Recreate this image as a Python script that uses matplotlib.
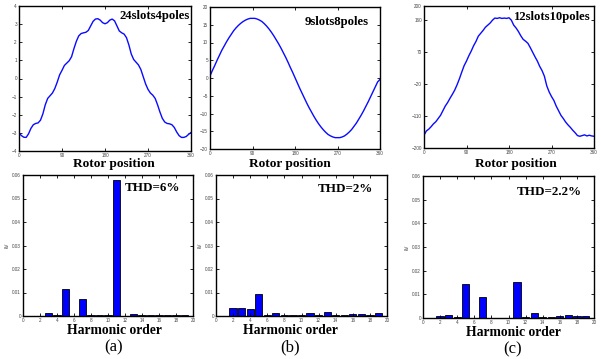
import matplotlib
matplotlib.use("Agg")
import matplotlib.pyplot as plt

# ---------------- data ----------------
angles = list(range(0, 361, 5))

emf_24s4p = [-3.00, -3.15, -3.24, -3.25, -3.05, -2.75, -2.55, -2.48, -2.45, -2.30,
             -1.95, -1.45, -1.10, -0.95, -0.80, -0.55, -0.20, 0.20, 0.45, 0.72,
             0.85, 0.98, 1.20, 1.65, 2.05, 2.35, 2.48, 2.52, 2.55, 2.65,
             2.90, 3.15, 3.28, 3.30, 3.22, 3.08, 3.02, 3.08, 3.22, 3.28,
             3.18, 2.90, 2.62, 2.52, 2.45, 2.25, 1.85, 1.35, 1.05, 0.90,
             0.75, 0.50, 0.10, -0.30, -0.60, -0.80, -0.92, -1.10, -1.45, -1.85,
             -2.20, -2.40, -2.48, -2.50, -2.55, -2.70, -2.95, -3.15, -3.25, -3.25,
             -3.20, -3.08, -2.98]

emf_9s8p = [0.6, 2.1, 3.5, 5.0, 6.4, 7.8, 9.0, 10.2, 11.3, 12.3,
            13.3, 14.1, 14.8, 15.4, 15.9, 16.3, 16.6, 16.8, 16.8, 16.8,
            16.6, 16.3, 15.9, 15.3, 14.6, 13.8, 12.9, 11.9, 10.8, 9.7,
            8.5, 7.2, 5.9, 4.5, 3.0, 1.6, 0.1, -1.4, -2.9, -4.3,
            -5.7, -7.1, -8.4, -9.6, -10.8, -11.9, -12.9, -13.8, -14.6, -15.3,
            -15.9, -16.3, -16.6, -16.8, -16.8, -16.8, -16.6, -16.3, -15.8, -15.2,
            -14.5, -13.6, -12.7, -11.6, -10.5, -9.3, -8.0, -6.7, -5.3, -3.9,
            -2.5, -1.1, -0.4]

emf_12s10p = [-164, -152, -147, -140, -132, -126, -117, -108, -95, -82,
              -72, -60, -49, -37, -22, -5, 14, 32, 45, 60,
              73, 88, 100, 115, 123, 131, 140, 146, 152, 160,
              166, 165, 167, 165, 166, 165, 167, 160, 146, 138,
              128, 116, 106, 101, 95, 83, 70, 57, 45, 30,
              18, 2, -25, -42, -55, -66, -82, -95, -108, -117,
              -127, -135, -142, -150, -157, -165, -167, -165, -163, -166,
              -164, -166, -167]

harmonics = list(range(2, 21))
thd_a = [0.0002, 0.0011, 0.0003, 0.0115, 0.0002, 0.0073, 0.0003, 0.0003, 0.0003,
         0.0579, 0.0002, 0.0008, 0.0003, 0.0003, 0.0003, 0.0003, 0.0003, 0.0003, 0.0002]
thd_b = [0.0035, 0.0035, 0.0028, 0.0092, 0.0003, 0.0014, 0.0003, 0.0005, 0.0005,
         0.0011, 0.0003, 0.0017, 0.0006, 0.0005, 0.0008, 0.0008, 0.0003, 0.0011, 0.0001]
thd_c = [0.0008, 0.0014, 0.0005, 0.0143, 0.0002, 0.0088, 0.0002, 0.0002, 0.0002,
         0.0153, 0.0005, 0.0021, 0.0005, 0.0003, 0.0007, 0.0014, 0.0007, 0.0009, 0.0001]

titles = ["24slots4poles", "9slots8poles", "12slots10poles"]
thd_labels = ["THD=6%", "THD=2%", "THD=2.2%"]
panel_labels = ["(a)", "(b)", "(c)"]
x_ticks_top = [0, 90, 180, 270, 360]
y_ticks_top = [[-4, -3, -2, -1, 0, 1, 2, 3, 4],
               [-20, -15, -10, -5, 0, 5, 10, 15, 20],
               [-200, -110, -20, 70, 160, 200]]
x_ticks_bot = list(range(0, 21, 2))
y_ticks_bot = [0, 0.01, 0.02, 0.03, 0.04, 0.05, 0.06]
y_tick_labels_bot = ["0", "0.01", "0.02", "0.03", "0.04", "0.05", "0.06"]

# ---------------- figure ----------------
W, H = 601, 359
fig = plt.figure(figsize=(W / 100, H / 100), dpi=100)

def px_axes(x0, y0, x1, y1):
    return fig.add_axes([x0 / W, 1 - y1 / H, (x1 - x0) / W, (y1 - y0) / H])

serif = "Liberation Serif"

top_boxes = [(19, 6, 191, 151), (210, 7, 380, 149), (424, 6, 594, 148)]
bot_boxes = [(23, 175, 193, 316), (216, 175, 387, 316), (423, 176, 594, 318)]
curves = [emf_24s4p, emf_9s8p, emf_12s10p]
ylims = [(-4, 4), (-20, 20), (-200, 200)]
bars = [thd_a, thd_b, thd_c]
title_pos = [(0.995, 0.93), (0.935, 0.895), (0.98, 0.92)]
thd_pos = [(0.925, 0.905), (0.918, 0.90), (0.93, 0.885)]
rotor_x = [114, 290, 516]
harm_x = [114, 290, 513]
harm_y = [330, 330, 333]
panel_y = [347, 347, 349]

def style(ax):
    for s in ax.spines.values():
        s.set_linewidth(1.0)
        s.set_color("black")
    ax.tick_params(direction="in", length=2, width=0.6, top=True, right=True,
                   labelsize=3.3, labelcolor="#444444", pad=1.5)
    for lab in ax.get_xticklabels() + ax.get_yticklabels():
        lab.set_family("Liberation Sans")

for i in range(3):
    ax = px_axes(*top_boxes[i])
    ax.plot(angles, curves[i], color="#0a0aff", lw=1.0)
    ax.set_xlim(0, 360)
    ax.set_ylim(*ylims[i])
    ax.set_xticks(x_ticks_top)
    ax.set_yticks(y_ticks_top[i])
    style(ax)
    ax.text(title_pos[i][0], title_pos[i][1], titles[i], transform=ax.transAxes,
            ha="right", va="center", family=serif, fontweight="bold", fontsize=9.2)
    fig.text(rotor_x[i] / W, 1 - 164 / H, "Rotor position", ha="center", va="center",
             family=serif, fontweight="bold", fontsize=9.6)

    bx = px_axes(*bot_boxes[i])
    bx.bar(harmonics, bars[i], width=0.85, color="#0000ff", edgecolor="black", linewidth=0.6)
    bx.set_xlim(0, 20)
    bx.set_ylim(0, 0.06)
    bx.set_xticks(x_ticks_bot)
    bx.set_yticks(y_ticks_bot)
    bx.set_yticklabels(y_tick_labels_bot)
    style(bx)
    bx.set_ylabel("kV", fontsize=3.3, family="Liberation Sans", color="#444444", labelpad=2)
    bx.text(thd_pos[i][0], thd_pos[i][1], thd_labels[i], transform=bx.transAxes,
            ha="right", va="center", family=serif, fontweight="bold", fontsize=9.4)
    fig.text(harm_x[i] / W, 1 - harm_y[i] / H, "Harmonic order", ha="center", va="center",
             family=serif, fontweight="bold", fontsize=9.8)
    fig.text(harm_x[i] / W, 1 - panel_y[i] / H, panel_labels[i], ha="center", va="center",
             family=serif, fontsize=12)

fig.savefig("out.png", dpi=100)
